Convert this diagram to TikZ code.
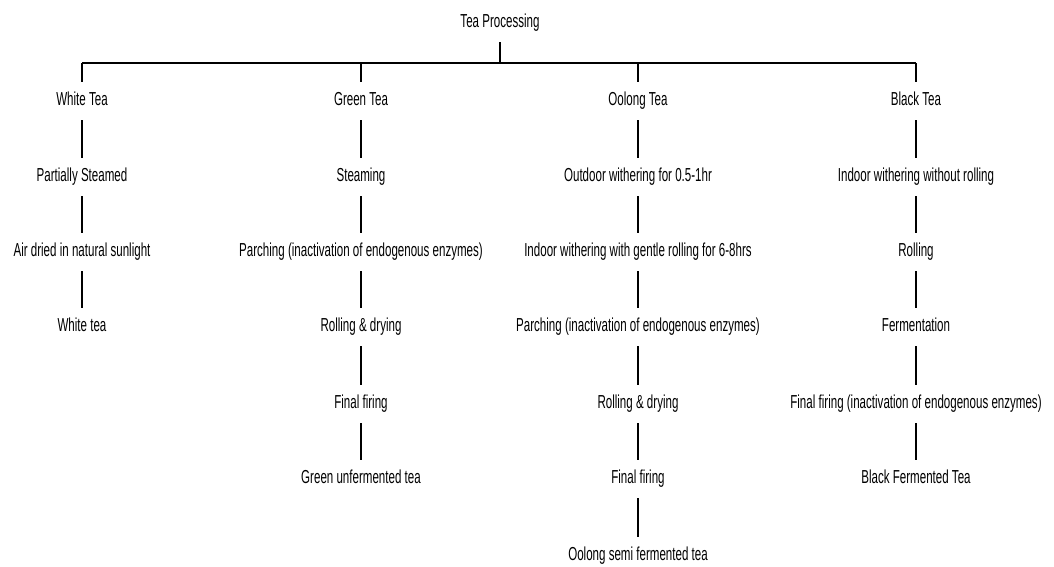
\documentclass[tikz,border=0pt]{standalone}
\usepackage{fontspec}
\setmainfont[FakeStretch=0.615]{Liberation Sans}
\begin{document}
\begin{tikzpicture}[x=1pt,y=-1pt,
  lbl/.style={font=\fontsize{18.8}{21}\selectfont, text height=13pt, text depth=4pt, inner xsep=2pt, inner ysep=10.5pt},
  thinln/.style={line width=1.6pt},
  thickln/.style={line width=2.8pt},
  barln/.style={line width=2.4pt}]
\useasboundingbox (0,0) rectangle (1054,566);
\node[lbl] (title) at (500,23) {Tea Processing};
% White
\node[lbl] (w1) at (82,101) {White Tea};
\node[lbl] (w2) at (82,177) {Partially Steamed};
\node[lbl] (w3) at (82,252) {Air dried in natural sunlight};
\node[lbl] (w4) at (82,327) {White tea};
% Green
\node[lbl] (g1) at (361,101) {Green Tea};
\node[lbl] (g2) at (361,177) {Steaming};
\node[lbl] (g3) at (361,252) {Parching (inactivation of endogenous enzymes)};
\node[lbl] (g4) at (361,327) {Rolling \& drying};
\node[lbl] (g5) at (361,404) {Final firing};
\node[lbl] (g6) at (361,479) {Green unfermented tea};
% Oolong
\node[lbl] (o1) at (638,101) {Oolong Tea};
\node[lbl] (o2) at (638,177) {Outdoor withering for 0.5-1hr};
\node[lbl] (o3) at (638,252) {Indoor withering with gentle rolling for 6-8hrs};
\node[lbl] (o4) at (638,327) {Parching (inactivation of endogenous enzymes)};
\node[lbl] (o5) at (638,404) {Rolling \& drying};
\node[lbl] (o6) at (638,479) {Final firing};
\node[lbl] (o7) at (638,556) {Oolong semi fermented tea};
% Black
\node[lbl] (b1) at (916,101) {Black Tea};
\node[lbl] (b2) at (916,177) {Indoor withering without rolling};
\node[lbl] (b3) at (916,252) {Rolling};
\node[lbl] (b4) at (916,327) {Fermentation};
\node[lbl] (b5) at (916,404) {Final firing (inactivation of endogenous enzymes)};
\node[lbl] (b6) at (916,479) {Black Fermented Tea};
% trunk
\coordinate (j) at (500,63);
\draw[thickln] (title.south) -- (j);
\draw[barln] (w1.north |- j) -- (b1.north |- j);
\draw[thinln] (w1.north |- j) -- (w1.north);
\draw[thickln] (g1.north |- j) -- (g1.north);
\draw[thinln] (o1.north |- j) -- (o1.north);
\draw[thickln] (b1.north |- j) -- (b1.north);
% chains
\foreach \a/\b in {w1/w2,w2/w3,w3/w4,o1/o2,o2/o3,o3/o4,o4/o5,o5/o6,o6/o7}
  \draw[thinln] (\a.south) -- (\b.north);
\foreach \a/\b in {g1/g2,g2/g3,g3/g4,g4/g5,g5/g6,b1/b2,b2/b3,b3/b4,b4/b5,b5/b6}
  \draw[thickln] (\a.south) -- (\b.north);
\end{tikzpicture}
\end{document}
